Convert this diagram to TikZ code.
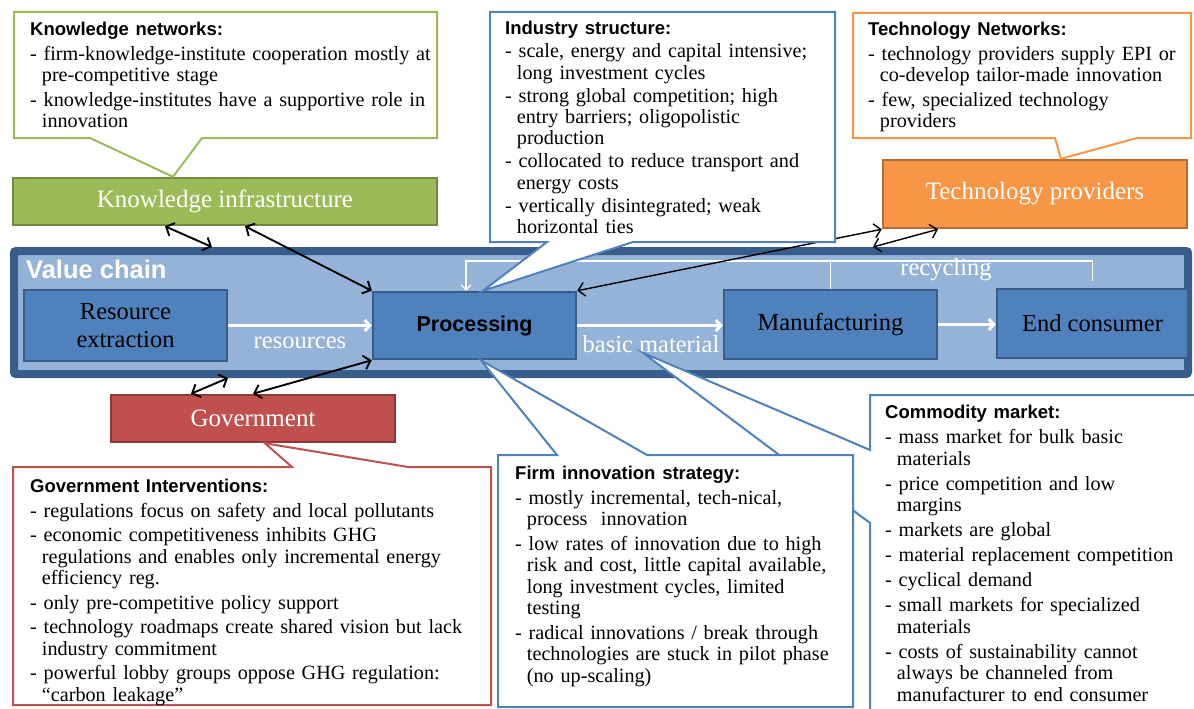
\documentclass[tikz,border=0pt]{standalone}
\usepackage{fontspec}
\setmainfont{Liberation Serif}
\setsansfont{Liberation Sans}
\usetikzlibrary{arrows.meta}
\definecolor{grn}{HTML}{9BBB59}
\definecolor{grndark}{HTML}{71893F}
\definecolor{org}{HTML}{F79646}
\definecolor{orgdark}{HTML}{B66D31}
\definecolor{rd}{HTML}{C0504D}
\definecolor{rddark}{HTML}{8C3836}
\definecolor{blu}{HTML}{4F81BD}
\definecolor{bludark}{HTML}{385D8A}
\definecolor{vcfill}{HTML}{95B3D7}
\newlength{\itmskip}
\setlength{\itmskip}{3pt}
\newcommand{\itm}{\par\vspace{\itmskip}\hangindent=0.58em\hangafter=1\noindent-\ }
\newcommand{\hd}[1]{{\sffamily\bfseries\fontsize{18.5}{21}\selectfont #1}}

\begin{document}
\begin{tikzpicture}[x=1pt,y=-1pt,
    every node/.style={inner sep=0pt},
    stage/.style={draw=bludark, line width=2.5pt, fill=blu, align=center, font=\fontsize{24.5}{28}\selectfont},
    actor/.style={line width=2.5pt, text=white, font=\fontsize{25}{27}\selectfont},
    note/.style={fill=white, line width=2pt},
    notetext/.style={anchor=north west, align=left, text width=#1, font=\fontsize{20.2}{21.5}\selectfont},
    dbl/.style={<->, >={Straight Barb[length=6.5pt,width=14pt]}, line width=1.9pt},
    flow/.style={->, >={Straight Barb[length=5pt,width=11pt]}, white, line width=3pt},
    flowlabel/.style={text=white, font=\fontsize{24.5}{26}\selectfont}]
  \useasboundingbox (0,0) rectangle (1194,709);
  \fill[white] (0,0) rectangle (1194,709);

  % value chain band
  \node[draw=bludark, fill=vcfill, line width=8pt, minimum width=1174pt, minimum height=123pt, rounded corners=2pt] (vc) at (601,312.5) {};
  \node[anchor=west, text=white, font=\sffamily\bfseries\fontsize{25.5}{27}\selectfont] (vclabel) at (26,269) {Value chain};

  \node[stage, minimum width=203pt, minimum height=71pt] (res) at (125.5,325.5) {Resource\\extraction};
  \node[stage, minimum width=203pt, minimum height=67pt, font=\sffamily\bfseries\fontsize{21.5}{25}\selectfont] (proc) at (474.5,325.5) {Processing};
  \node[stage, minimum width=213pt, minimum height=69pt] (manu) at (830.5,324.5) {Manufacturing};
  \node[stage, minimum width=191pt, minimum height=69pt] (endc) at (1092.5,323.5) {End consumer};

  % outside actors
  \node[actor, draw=grndark, fill=grn, minimum width=424pt, minimum height=47pt] (kinf) at (225,201.5) {Knowledge infrastructure};
  \node[actor, draw=orgdark, fill=org, minimum width=304pt, minimum height=68pt] (tech) at (1035,194) {Technology providers};
  \node[actor, draw=rddark, fill=rd, minimum width=284pt, minimum height=47pt] (gov) at (253,418.5) {Government};

  % material flows
  \draw[flow] (res.east) -- (proc.west);
  \draw[flow] (proc.east) -- (proc.east -| manu.west);
  \draw[flow] (manu.east) -- (manu.east -| endc.west);
  \node[flowlabel] (reslab) at (300,343) {resources};
  \node[flowlabel] (baslab) at (651,344) {basic material};
  \node[flowlabel] (reclab) at (946,270) {recycling};

  \coordinate (recl) at (466,261);
  \draw[white, line width=1.3pt, -{Straight Barb[length=5pt,width=10pt]}] ([yshift=7pt]endc.north) |- (recl) -- (recl |- proc.north);
  \draw[white, line width=1.3pt] (manu.north) -- (manu.north |- recl);

  % interactions
  \draw[dbl] ([xshift=-60pt]kinf.south) -- ([xshift=-389pt]vc.north);
  \draw[dbl] ([xshift=20pt]kinf.south) -- (proc.north west);
  \draw[dbl] ([xshift=-62pt]gov.north) -- ([xshift=-373pt]vc.south);
  \draw[dbl] (gov.north) -- (proc.south west);
  \draw[dbl, line width=1.4pt] (proc.north east) -- (tech.south west);
  \draw[dbl, line width=1.4pt] ([xshift=272pt]vc.north) -- ([xshift=-97pt]tech.south);

  % callouts
  \draw[note, draw=grn] (14,12) -- (437,12) -- (437,138) -- (202,138) -- ([xshift=-52pt]kinf.north) -- (90,138) -- (14,138) -- cycle;
  \node[notetext=430pt] (knet) at (30,22) {\hd{Knowledge networks:}
    \itm firm-knowledge-institute cooperation mostly at\newline pre-competitive stage
    \itm knowledge-institutes have a supportive role in\newline innovation\par};

  \draw[note, draw=blu] (490,12) -- (835,12) -- (835,242) -- (633,242) -- ([xshift=8.5pt]proc.north) -- (547,242) -- (490,242) -- cycle;
  \node[notetext=335pt, font=\fontsize{20.2}{21.2}\selectfont\setlength{\itmskip}{2pt}] (indus) at (505,21) {\hd{Industry structure:}
    \itm scale, energy and capital intensive;\newline long investment cycles
    \itm strong global competition; high\newline entry barriers; oligopolistic\newline production
    \itm collocated to reduce transport and\newline energy costs
    \itm vertically disintegrated; weak\newline horizontal ties\par};

  \draw[note, draw=org] (853,13) -- (1191,13) -- (1191,138) -- (1137,138) -- ([xshift=26pt]tech.north) -- (1055,138) -- (853,138) -- cycle;
  \node[notetext=330pt] (tnet) at (868,22) {\hd{Technology Networks:}
    \itm technology providers supply EPI or\newline co-develop tailor-made innovation
    \itm few, specialized technology\newline providers\par};

  \draw[note, draw=rd] (13,467) -- (292,467) -- ([xshift=12pt]gov.south) -- (408,467) -- (491,467) -- (491,705) -- (13,705) -- cycle;
  \node[notetext=470pt] (govint) at (30,479) {\hd{Government Interventions:}
    \itm regulations focus on safety and local pollutants
    \itm economic competitiveness inhibits GHG\newline regulations and enables only incremental energy\newline efficiency reg.
    \itm only pre-competitive policy support
    \itm technology roadmaps create shared vision but lack\newline industry commitment
    \itm powerful lobby groups oppose GHG regulation:\newline “carbon leakage”\par};

  \draw[note, draw=blu] (870,395) -- (1200,395) -- (1200,715) -- (870,715) -- (870,523) -- ([xshift=-8pt]baslab.south) -- (870,450) -- cycle;
  \node[notetext=320pt, font=\fontsize{20.2}{21.5}\selectfont\setlength{\itmskip}{3.5pt}] (comm) at (885,405) {\hd{Commodity market:}
    \itm mass market for bulk basic\newline materials
    \itm price competition and low\newline margins
    \itm markets are global
    \itm material replacement competition
    \itm cyclical demand
    \itm small markets for specialized\newline materials
    \itm costs of sustainability cannot\newline always be channeled from\newline manufacturer to end consumer\par};

  \draw[note, draw=blu] (498,455) -- (557,455) -- ([xshift=6.5pt]proc.south) -- (647,455) -- (853,455) -- (853,707) -- (498,707) -- cycle;
  \node[notetext=345pt] (firm) at (515,466) {\hd{Firm innovation strategy:}
    \itm mostly incremental, tech-nical,\newline process\ \ innovation
    \itm low rates of innovation due to high\newline risk and cost, little capital available,\newline long investment cycles, limited\newline testing
    \itm radical innovations / break through\newline technologies are stuck in pilot phase\newline (no up-scaling)\par};
\end{tikzpicture}
\end{document}
